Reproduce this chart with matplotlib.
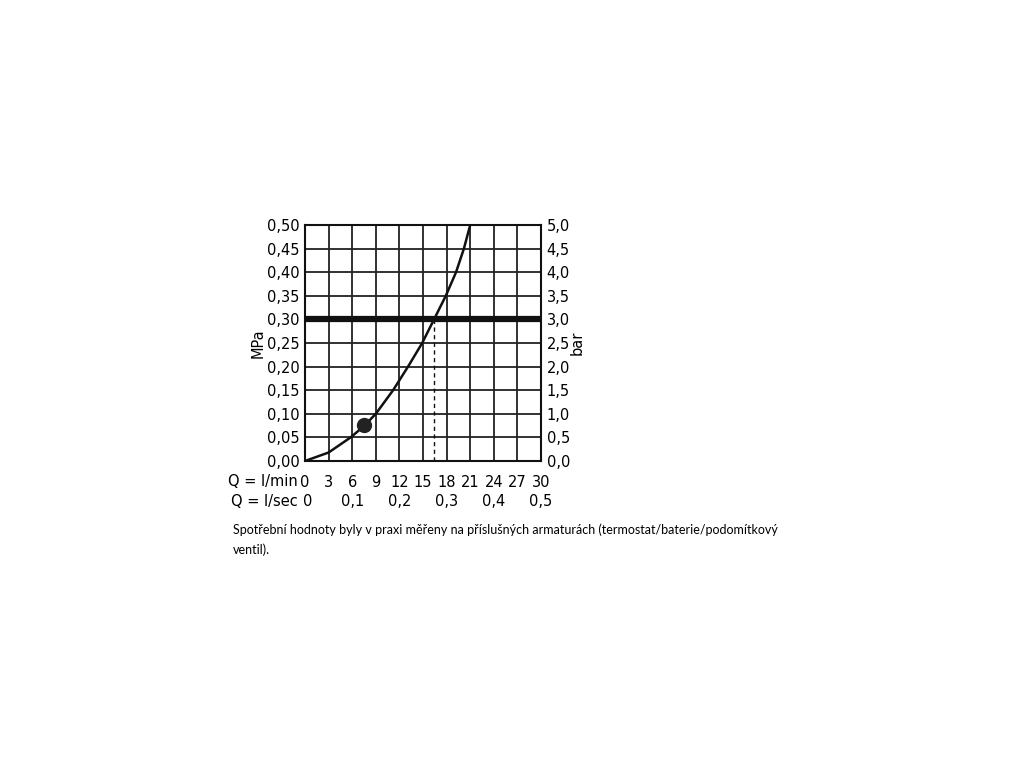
import matplotlib.pyplot as plt

# flow rate (l/min) vs pressure (MPa)
FLOW_LPM = [0, 3, 5.8, 7.5, 9.0, 11.2, 13.1, 14.9, 16.4, 17.9, 19.2, 20.2, 21.0]
PRESSURE_MPA = [0, 0.018, 0.05, 0.074, 0.10, 0.15, 0.20, 0.25, 0.30, 0.35, 0.40, 0.45, 0.50]

POINT_FLOW = 7.5
POINT_PRESSURE = 0.076
RATED_PRESSURE = 0.30
RATED_FLOW = 16.4

X_TICKS = [0, 3, 6, 9, 12, 15, 18, 21, 24, 27, 30]
LSEC_POS = [0, 6, 12, 18, 24, 30]
LSEC_LABELS = ['0', '0,1', '0,2', '0,3', '0,4', '0,5']
Y_TICKS = [0.0, 0.05, 0.10, 0.15, 0.20, 0.25, 0.30, 0.35, 0.40, 0.45, 0.50]
Y_LABELS = ['0,00', '0,05', '0,10', '0,15', '0,20', '0,25', '0,30', '0,35', '0,40', '0,45', '0,50']
BAR_LABELS = ['0,0', '0,5', '1,0', '1,5', '2,0', '2,5', '3,0', '3,5', '4,0', '4,5', '5,0']

CAPTION = ("Spotřební hodnoty byly v praxi měřeny na příslušných armaturách (termostat/baterie/podomítkový\n"
           "ventil).")

plt.rcParams['font.family'] = ['DejaVu Sans']
FS = 10.5

fig = plt.figure(figsize=(10.24, 7.68), dpi=100)
ax = fig.add_axes([305 / 1024, 1 - 461 / 768, 236 / 1024, 236 / 768])

ax.set_xlim(0, 30)
ax.set_ylim(0, 0.5)
ax.set_xticks(X_TICKS)
ax.set_xticklabels([str(v) for v in X_TICKS], fontsize=FS)
ax.set_yticks(Y_TICKS)
ax.set_yticklabels(Y_LABELS, fontsize=FS)
ax.tick_params(length=0, pad=4)
ax.tick_params(axis='x', pad=10)
ax.grid(True, color='#222222', linewidth=1.3)
for s in ax.spines.values():
    s.set_linewidth(1.5)
    s.set_color('#111111')

ax.axhline(RATED_PRESSURE, color='#111111', linewidth=4.5, zorder=3)
ax.plot([RATED_FLOW, RATED_FLOW], [0, RATED_PRESSURE], color='#111111',
        linewidth=1.0, linestyle=(0, (3, 2.5)), zorder=3)
ax.plot(FLOW_LPM, PRESSURE_MPA, color='#111111', linewidth=1.8, zorder=4,
        solid_joinstyle='round')
ax.plot([POINT_FLOW], [POINT_PRESSURE], 'o', color='#222222', markersize=10, zorder=5)

ax.set_ylabel('MPa', fontsize=FS, labelpad=1)

# right axis in bar
ax2 = ax.twinx()
ax2.set_ylim(0, 0.5)
ax2.set_yticks(Y_TICKS)
ax2.set_yticklabels(BAR_LABELS, fontsize=FS)
ax2.tick_params(length=0, pad=4)
ax2.set_ylabel('bar', fontsize=FS, labelpad=0, rotation=90)
for s in ax2.spines.values():
    s.set_visible(False)

# flow unit labels
trans = ax.get_xaxis_transform()
ax.text(-0.9, -0.088, 'Q = l/min', transform=trans, ha='right', va='center', fontsize=FS)
ax.text(-0.9, -0.172, 'Q = l/sec', transform=trans, ha='right', va='center', fontsize=FS)
for pos, lab in zip(LSEC_POS[1:], LSEC_LABELS[1:]):
    ax.text(pos, -0.172, lab, transform=trans, ha='center', va='center', fontsize=FS)
ax.text(LSEC_POS[0] + 0.3, -0.172, LSEC_LABELS[0], transform=trans, ha='center',
        va='center', fontsize=FS)

fig.text(233 / 1024, 1 - 540 / 768, CAPTION, fontsize=9, ha='left', va='center',
         linespacing=1.7, family=['Lato', 'DejaVu Sans'])

fig.savefig('out.png', dpi=100)
